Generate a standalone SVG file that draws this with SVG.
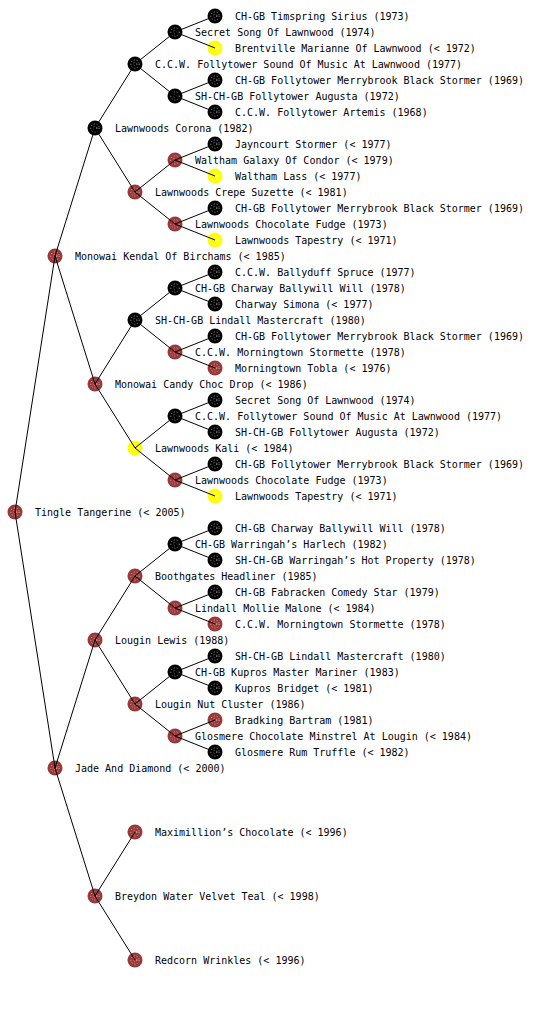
<svg xmlns="http://www.w3.org/2000/svg" width="560" height="1024" viewBox="0 0 560 1024">
<style>
text{font-family:"DejaVu Sans Mono","Liberation Mono",monospace;font-size:10px;fill:#000}
.c line{stroke:#000;stroke-width:1}
.k{fill:#000}.r{fill:#9a3838}.y{fill:#ffff00}
.dot{fill:none;stroke:#fff;stroke-width:0.8;stroke-dasharray:1 2;opacity:0.8}
</style>
<defs>
<g id="spk"><circle r="4.2" class="dot"/><circle r="1.8" class="dot"/></g>
</defs>
<rect width="560" height="1024" fill="#fff"/>
<g id="n0"><circle cx="15" cy="512" r="7.5" class="r"/><use href="#spk" x="15" y="512"/><text x="35" y="516">Tingle Tangerine (&lt; 2005)</text></g>
<g id="n1"><circle cx="55" cy="256" r="7.5" class="r"/><use href="#spk" x="55" y="256"/><text x="75" y="260">Monowai Kendal Of Birchams (&lt; 1985)</text></g>
<g id="n2"><circle cx="95" cy="128" r="7.5" class="k"/><use href="#spk" x="95" y="128"/><text x="115" y="132">Lawnwoods Corona (1982)</text></g>
<g id="n3"><circle cx="135" cy="64" r="7.5" class="k"/><use href="#spk" x="135" y="64"/><text x="155" y="68">C.C.W. Follytower Sound Of Music At Lawnwood (1977)</text></g>
<g id="n4"><circle cx="175" cy="32" r="7.5" class="k"/><use href="#spk" x="175" y="32"/><text x="195" y="36">Secret Song Of Lawnwood (1974)</text></g>
<g id="n5"><circle cx="215" cy="16" r="7.5" class="k"/><use href="#spk" x="215" y="16"/><text x="235" y="20">CH-GB Timspring Sirius (1973)</text></g>
<g id="n6"><circle cx="215" cy="48" r="7.5" class="y"/><use href="#spk" x="215" y="48"/><text x="235" y="52">Brentville Marianne Of Lawnwood (&lt; 1972)</text></g>
<g id="n7"><circle cx="175" cy="96" r="7.5" class="k"/><use href="#spk" x="175" y="96"/><text x="195" y="100">SH-CH-GB Follytower Augusta (1972)</text></g>
<g id="n8"><circle cx="215" cy="80" r="7.5" class="k"/><use href="#spk" x="215" y="80"/><text x="235" y="84">CH-GB Follytower Merrybrook Black Stormer (1969)</text></g>
<g id="n9"><circle cx="215" cy="112" r="7.5" class="k"/><use href="#spk" x="215" y="112"/><text x="235" y="116">C.C.W. Follytower Artemis (1968)</text></g>
<g id="n10"><circle cx="135" cy="192" r="7.5" class="r"/><use href="#spk" x="135" y="192"/><text x="155" y="196">Lawnwoods Crepe Suzette (&lt; 1981)</text></g>
<g id="n11"><circle cx="175" cy="160" r="7.5" class="r"/><use href="#spk" x="175" y="160"/><text x="195" y="164">Waltham Galaxy Of Condor (&lt; 1979)</text></g>
<g id="n12"><circle cx="215" cy="144" r="7.5" class="k"/><use href="#spk" x="215" y="144"/><text x="235" y="148">Jayncourt Stormer (&lt; 1977)</text></g>
<g id="n13"><circle cx="215" cy="176" r="7.5" class="y"/><use href="#spk" x="215" y="176"/><text x="235" y="180">Waltham Lass (&lt; 1977)</text></g>
<g id="n14"><circle cx="175" cy="224" r="7.5" class="r"/><use href="#spk" x="175" y="224"/><text x="195" y="228">Lawnwoods Chocolate Fudge (1973)</text></g>
<g id="n15"><circle cx="215" cy="208" r="7.5" class="k"/><use href="#spk" x="215" y="208"/><text x="235" y="212">CH-GB Follytower Merrybrook Black Stormer (1969)</text></g>
<g id="n16"><circle cx="215" cy="240" r="7.5" class="y"/><use href="#spk" x="215" y="240"/><text x="235" y="244">Lawnwoods Tapestry (&lt; 1971)</text></g>
<g id="n17"><circle cx="95" cy="384" r="7.5" class="r"/><use href="#spk" x="95" y="384"/><text x="115" y="388">Monowai Candy Choc Drop (&lt; 1986)</text></g>
<g id="n18"><circle cx="135" cy="320" r="7.5" class="k"/><use href="#spk" x="135" y="320"/><text x="155" y="324">SH-CH-GB Lindall Mastercraft (1980)</text></g>
<g id="n19"><circle cx="175" cy="288" r="7.5" class="k"/><use href="#spk" x="175" y="288"/><text x="195" y="292">CH-GB Charway Ballywill Will (1978)</text></g>
<g id="n20"><circle cx="215" cy="272" r="7.5" class="k"/><use href="#spk" x="215" y="272"/><text x="235" y="276">C.C.W. Ballyduff Spruce (1977)</text></g>
<g id="n21"><circle cx="215" cy="304" r="7.5" class="k"/><use href="#spk" x="215" y="304"/><text x="235" y="308">Charway Simona (&lt; 1977)</text></g>
<g id="n22"><circle cx="175" cy="352" r="7.5" class="r"/><use href="#spk" x="175" y="352"/><text x="195" y="356">C.C.W. Morningtown Stormette (1978)</text></g>
<g id="n23"><circle cx="215" cy="336" r="7.5" class="k"/><use href="#spk" x="215" y="336"/><text x="235" y="340">CH-GB Follytower Merrybrook Black Stormer (1969)</text></g>
<g id="n24"><circle cx="215" cy="368" r="7.5" class="r"/><use href="#spk" x="215" y="368"/><text x="235" y="372">Morningtown Tobla (&lt; 1976)</text></g>
<g id="n25"><circle cx="135" cy="448" r="7.5" class="y"/><use href="#spk" x="135" y="448"/><text x="155" y="452">Lawnwoods Kali (&lt; 1984)</text></g>
<g id="n26"><circle cx="175" cy="416" r="7.5" class="k"/><use href="#spk" x="175" y="416"/><text x="195" y="420">C.C.W. Follytower Sound Of Music At Lawnwood (1977)</text></g>
<g id="n27"><circle cx="215" cy="400" r="7.5" class="k"/><use href="#spk" x="215" y="400"/><text x="235" y="404">Secret Song Of Lawnwood (1974)</text></g>
<g id="n28"><circle cx="215" cy="432" r="7.5" class="k"/><use href="#spk" x="215" y="432"/><text x="235" y="436">SH-CH-GB Follytower Augusta (1972)</text></g>
<g id="n29"><circle cx="175" cy="480" r="7.5" class="r"/><use href="#spk" x="175" y="480"/><text x="195" y="484">Lawnwoods Chocolate Fudge (1973)</text></g>
<g id="n30"><circle cx="215" cy="464" r="7.5" class="k"/><use href="#spk" x="215" y="464"/><text x="235" y="468">CH-GB Follytower Merrybrook Black Stormer (1969)</text></g>
<g id="n31"><circle cx="215" cy="496" r="7.5" class="y"/><use href="#spk" x="215" y="496"/><text x="235" y="500">Lawnwoods Tapestry (&lt; 1971)</text></g>
<g id="n32"><circle cx="55" cy="768" r="7.5" class="r"/><use href="#spk" x="55" y="768"/><text x="75" y="772">Jade And Diamond (&lt; 2000)</text></g>
<g id="n33"><circle cx="95" cy="640" r="7.5" class="r"/><use href="#spk" x="95" y="640"/><text x="115" y="644">Lougin Lewis (1988)</text></g>
<g id="n34"><circle cx="135" cy="576" r="7.5" class="r"/><use href="#spk" x="135" y="576"/><text x="155" y="580">Boothgates Headliner (1985)</text></g>
<g id="n35"><circle cx="175" cy="544" r="7.5" class="k"/><use href="#spk" x="175" y="544"/><text x="195" y="548">CH-GB Warringah’s Harlech (1982)</text></g>
<g id="n36"><circle cx="215" cy="528" r="7.5" class="k"/><use href="#spk" x="215" y="528"/><text x="235" y="532">CH-GB Charway Ballywill Will (1978)</text></g>
<g id="n37"><circle cx="215" cy="560" r="7.5" class="k"/><use href="#spk" x="215" y="560"/><text x="235" y="564">SH-CH-GB Warringah’s Hot Property (1978)</text></g>
<g id="n38"><circle cx="175" cy="608" r="7.5" class="r"/><use href="#spk" x="175" y="608"/><text x="195" y="612">Lindall Mollie Malone (&lt; 1984)</text></g>
<g id="n39"><circle cx="215" cy="592" r="7.5" class="k"/><use href="#spk" x="215" y="592"/><text x="235" y="596">CH-GB Fabracken Comedy Star (1979)</text></g>
<g id="n40"><circle cx="215" cy="624" r="7.5" class="r"/><use href="#spk" x="215" y="624"/><text x="235" y="628">C.C.W. Morningtown Stormette (1978)</text></g>
<g id="n41"><circle cx="135" cy="704" r="7.5" class="r"/><use href="#spk" x="135" y="704"/><text x="155" y="708">Lougin Nut Cluster (1986)</text></g>
<g id="n42"><circle cx="175" cy="672" r="7.5" class="k"/><use href="#spk" x="175" y="672"/><text x="195" y="676">CH-GB Kupros Master Mariner (1983)</text></g>
<g id="n43"><circle cx="215" cy="656" r="7.5" class="k"/><use href="#spk" x="215" y="656"/><text x="235" y="660">SH-CH-GB Lindall Mastercraft (1980)</text></g>
<g id="n44"><circle cx="215" cy="688" r="7.5" class="k"/><use href="#spk" x="215" y="688"/><text x="235" y="692">Kupros Bridget (&lt; 1981)</text></g>
<g id="n45"><circle cx="175" cy="736" r="7.5" class="r"/><use href="#spk" x="175" y="736"/><text x="195" y="740">Glosmere Chocolate Minstrel At Lougin (&lt; 1984)</text></g>
<g id="n46"><circle cx="215" cy="720" r="7.5" class="r"/><use href="#spk" x="215" y="720"/><text x="235" y="724">Bradking Bartram (1981)</text></g>
<g id="n47"><circle cx="215" cy="752" r="7.5" class="k"/><use href="#spk" x="215" y="752"/><text x="235" y="756">Glosmere Rum Truffle (&lt; 1982)</text></g>
<g id="n48"><circle cx="95" cy="896" r="7.5" class="r"/><use href="#spk" x="95" y="896"/><text x="115" y="900">Breydon Water Velvet Teal (&lt; 1998)</text></g>
<g id="n49"><circle cx="135" cy="832" r="7.5" class="r"/><use href="#spk" x="135" y="832"/><text x="155" y="836">Maximillion’s Chocolate (&lt; 1996)</text></g>
<g id="n50"><circle cx="135" cy="960" r="7.5" class="r"/><use href="#spk" x="135" y="960"/><text x="155" y="964">Redcorn Wrinkles (&lt; 1996)</text></g>
<g id="connectors" class="c">
<line x1="15" y1="512" x2="55" y2="256"/><line x1="15" y1="512" x2="55" y2="768"/>
<line x1="55" y1="256" x2="95" y2="128"/><line x1="55" y1="256" x2="95" y2="384"/>
<line x1="95" y1="128" x2="135" y2="64"/><line x1="95" y1="128" x2="135" y2="192"/>
<line x1="135" y1="64" x2="175" y2="32"/><line x1="135" y1="64" x2="175" y2="96"/>
<line x1="175" y1="32" x2="215" y2="16"/><line x1="175" y1="32" x2="215" y2="48"/>
<line x1="175" y1="96" x2="215" y2="80"/><line x1="175" y1="96" x2="215" y2="112"/>
<line x1="135" y1="192" x2="175" y2="160"/><line x1="135" y1="192" x2="175" y2="224"/>
<line x1="175" y1="160" x2="215" y2="144"/><line x1="175" y1="160" x2="215" y2="176"/>
<line x1="175" y1="224" x2="215" y2="208"/><line x1="175" y1="224" x2="215" y2="240"/>
<line x1="95" y1="384" x2="135" y2="320"/><line x1="95" y1="384" x2="135" y2="448"/>
<line x1="135" y1="320" x2="175" y2="288"/><line x1="135" y1="320" x2="175" y2="352"/>
<line x1="175" y1="288" x2="215" y2="272"/><line x1="175" y1="288" x2="215" y2="304"/>
<line x1="175" y1="352" x2="215" y2="336"/><line x1="175" y1="352" x2="215" y2="368"/>
<line x1="135" y1="448" x2="175" y2="416"/><line x1="135" y1="448" x2="175" y2="480"/>
<line x1="175" y1="416" x2="215" y2="400"/><line x1="175" y1="416" x2="215" y2="432"/>
<line x1="175" y1="480" x2="215" y2="464"/><line x1="175" y1="480" x2="215" y2="496"/>
<line x1="55" y1="768" x2="95" y2="640"/><line x1="55" y1="768" x2="95" y2="896"/>
<line x1="95" y1="640" x2="135" y2="576"/><line x1="95" y1="640" x2="135" y2="704"/>
<line x1="135" y1="576" x2="175" y2="544"/><line x1="135" y1="576" x2="175" y2="608"/>
<line x1="175" y1="544" x2="215" y2="528"/><line x1="175" y1="544" x2="215" y2="560"/>
<line x1="175" y1="608" x2="215" y2="592"/><line x1="175" y1="608" x2="215" y2="624"/>
<line x1="135" y1="704" x2="175" y2="672"/><line x1="135" y1="704" x2="175" y2="736"/>
<line x1="175" y1="672" x2="215" y2="656"/><line x1="175" y1="672" x2="215" y2="688"/>
<line x1="175" y1="736" x2="215" y2="720"/><line x1="175" y1="736" x2="215" y2="752"/>
<line x1="95" y1="896" x2="135" y2="832"/><line x1="95" y1="896" x2="135" y2="960"/>
</g>
</svg>
